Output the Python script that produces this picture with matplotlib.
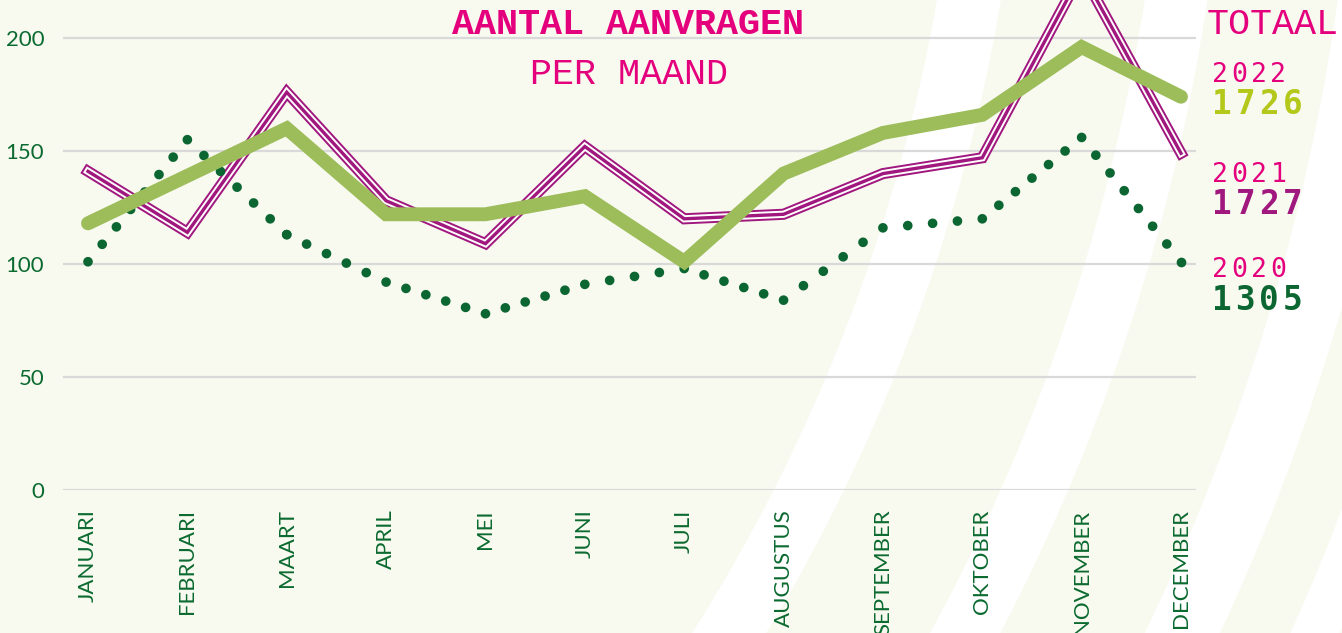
import numpy as np
import matplotlib.pyplot as plt
from matplotlib.patches import Wedge

# --- data ---
maanden = ['JANUARI', 'FEBRUARI', 'MAART', 'APRIL', 'MEI', 'JUNI',
           'JULI', 'AUGUSTUS', 'SEPTEMBER', 'OKTOBER', 'NOVEMBER', 'DECEMBER']
aanvragen_2022 = [118, 139, 160, 122, 122, 130, 101, 140, 158, 166, 196, 174]
aanvragen_2021 = [141, 114, 176, 128, 109, 152, 120, 122, 140, 147, 229, 149]
aanvragen_2020 = [101, 155, 113, 92, 78, 91, 98, 84, 116, 120, 156, 101]
jaren = ['2022', '2021', '2020']
totalen = ['1726', '1727', '1305']
y_ticks = [0, 50, 100, 150, 200]

# --- kleuren ---
ACHTERGROND = '#f8f9ef'
MAGENTA = '#e4007c'
GROEN_2022 = '#9cbd5a'
PAARS_2021 = '#a0177e'
GROEN_2020 = '#0b6632'
TEKST_GROEN = '#0b6a30'
LIME = '#b3c81a'

W, H = 1342, 633
fig = plt.figure(figsize=(W / 100, H / 100), dpi=100)
fig.patch.set_facecolor(ACHTERGROND)

# achtergrond: witte bogen
bg = fig.add_axes([0, 0, 1, 1])
bg.set_xlim(0, W)
bg.set_ylim(H, 0)
bg.axis('off')
centrum = (-780, -300)
witte_banden = [(1743, 1806), (1948, 2010), (2139, 2207), (2271, 2316), (2420, 2490)]
for r_in, r_uit in witte_banden:
    bg.add_patch(Wedge(centrum, r_uit, 0, 360, width=r_uit - r_in,
                       facecolor='white', edgecolor='none'))

# hoofdgrafiek
x0, x_end, y0 = 63, 1196, 490
px_per_maand = (1181 - 88) / 11
px_per_eenheid = 2.26
ax = fig.add_axes([x0 / W, (H - y0) / H, (x_end - x0) / W, y0 / H])
ax.set_facecolor('none')
ax.set_xlim(-(88 - x0) / px_per_maand, 11 + (x_end - 1181) / px_per_maand)
ax.set_ylim(0, y0 / px_per_eenheid)
for s in ax.spines.values():
    s.set_visible(False)

x = list(range(len(maanden)))

# 2021: drievoudige lijn
ax.plot(x, aanvragen_2021, color=PAARS_2021, lw=8, solid_joinstyle='miter', zorder=3, clip_on=False)
ax.plot(x, aanvragen_2021, color='white', lw=5.2, solid_joinstyle='miter', zorder=3, clip_on=False)
ax.plot(x, aanvragen_2021, color=PAARS_2021, lw=2.4, solid_joinstyle='miter', zorder=3, clip_on=False)

# 2020: gestippeld, per segment zodat er op elk datapunt een stip valt
stip_lw = 7.0
stip_afstand_px = 22.5
punten_px = ax.transData.transform(np.column_stack([x, aanvragen_2020]))
for i in range(len(x) - 1):
    lengte = np.hypot(*(punten_px[i + 1] - punten_px[i]))
    n = max(1, round(lengte / stip_afstand_px))
    stap_pt = (lengte / n) * 72 / fig.dpi / stip_lw
    ax.plot(x[i:i + 2], aanvragen_2020[i:i + 2], color=GROEN_2020, lw=stip_lw,
            linestyle=(0, (0.001, stap_pt - 0.001)), dash_capstyle='round',
            zorder=4, clip_on=False)
ax.plot(x[-1:], aanvragen_2020[-1:], 'o', color=GROEN_2020, ms=stip_lw, mew=0,
        zorder=4, clip_on=False)

# 2022: dikke lijn
ax.plot(x, aanvragen_2022, color=GROEN_2022, lw=10, solid_capstyle='round',
        solid_joinstyle='miter', zorder=5, clip_on=False)

ax.set_yticks(y_ticks)
ax.set_yticklabels([str(v) for v in y_ticks])
ax.set_xticks(x)
ax.set_xticklabels(maanden, rotation=90, va='top', ha='center')
ax.grid(axis='y', color='#d9d9d9', lw=1.6, zorder=1)
ax.grid(axis='x', visible=False)
ax.tick_params(axis='y', length=0, pad=13.5, labelsize=16, labelcolor=TEKST_GROEN)
ax.tick_params(axis='x', length=0, pad=14, labelsize=16, labelcolor=TEKST_GROEN)
for lbl in ax.get_xticklabels() + ax.get_yticklabels():
    lbl.set_fontfamily('Lato')


def fig_text(px, py, s, **kw):
    fig.text(px / W, 1 - py / H, s, **kw)


def spaced_text(px, py, s, stap, **kw):
    for i, ch in enumerate(s):
        fig_text(px + i * stap, py, ch, ha='left', va='center', **kw)


# titels
fig_text(628, 24, 'AANTAL AANVRAGEN', ha='center', va='center', fontsize=26.5,
         fontweight='bold', family='Liberation Mono', color=MAGENTA)
fig_text(629, 75, 'PER MAAND', ha='center', va='center', fontsize=26.5,
         family='Liberation Mono', color=MAGENTA)
fig_text(1207, 24, 'TOTAAL', ha='left', va='center', fontsize=26.5,
         family='Liberation Mono', color=MAGENTA)

# totalen per jaar
jaar_y = [75, 175, 270]
totaal_y = [105, 204, 300]
totaal_kleur = [LIME, PAARS_2021, GROEN_2020]
for jaar, totaal, jy, ty, kl in zip(jaren, totalen, jaar_y, totaal_y, totaal_kleur):
    spaced_text(1212, jy, jaar, 19.5, fontsize=19, family='DejaVu Sans Mono', color=MAGENTA)
    spaced_text(1212, ty, totaal, 23.5, fontsize=23.5, fontweight='bold',
                family='DejaVu Sans Mono', color=kl)

fig.savefig('out.png', dpi=100, facecolor=fig.get_facecolor())
